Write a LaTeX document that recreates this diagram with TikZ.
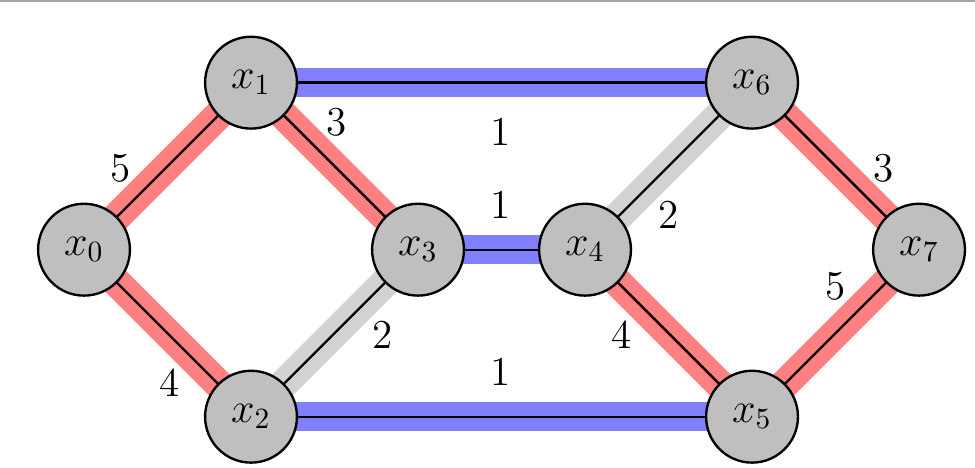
\documentclass[tikz,border=0pt]{standalone}
\usetikzlibrary{backgrounds}
\begin{document}
\begin{tikzpicture}[
  vert/.style={circle, draw=black, line width=0.8pt, fill=gray!50, minimum size=1.1cm, inner sep=0pt, font=\fontsize{14}{16}\selectfont},
  lbl/.style={font=\fontsize{14}{16}\selectfont, inner sep=1pt},
  redband/.style={draw=red!50, line width=10pt},
  blueband/.style={draw=blue!50, line width=10pt},
  grayband/.style={draw=gray!35, line width=10pt},
  core/.style={draw=black, line width=0.8pt}
]
\useasboundingbox (-1.006,-2.61) rectangle (10.67,2.99);
\draw[gray!70, line width=1pt] (-1.006,2.98) -- (10.67,2.98);

\node[vert] (x0) at (0,0) {$x_0$};
\node[vert] (x1) at (2,2) {$x_1$};
\node[vert] (x2) at (2,-2) {$x_2$};
\node[vert] (x3) at (4,0) {$x_3$};
\node[vert] (x4) at (6,0) {$x_4$};
\node[vert] (x5) at (8,-2) {$x_5$};
\node[vert] (x6) at (8,2) {$x_6$};
\node[vert] (x7) at (10,0) {$x_7$};

\begin{scope}[on background layer]
  \foreach \a/\b/\s in {x0/x1/redband, x0/x2/redband, x1/x3/redband, x4/x5/redband, x6/x7/redband, x5/x7/redband,
                        x1/x6/blueband, x3/x4/blueband, x2/x5/blueband,
                        x2/x3/grayband, x4/x6/grayband}{
    \path[\s] (\a.center) -- (\b.center);
    \path[core] (\a.center) -- (\b.center);
  }
\end{scope}

\node[lbl] (l01) at (0.44,0.98) {5};
\node[lbl] (l13) at (3.03,1.53) {3};
\node[lbl] (l16) at (4.99,1.41) {1};
\node[lbl] (l34) at (4.99,0.54) {1};
\node[lbl] (l46) at (7.0,0.42) {2};
\node[lbl] (l67) at (9.57,0.98) {3};
\node[lbl] (l57) at (9.0,-0.44) {5};
\node[lbl] (l45) at (6.44,-1.02) {4};
\node[lbl] (l25) at (4.99,-1.46) {1};
\node[lbl] (l23) at (3.58,-1.02) {2};
\node[lbl] (l02) at (1.03,-1.59) {4};
\end{tikzpicture}
\end{document}
